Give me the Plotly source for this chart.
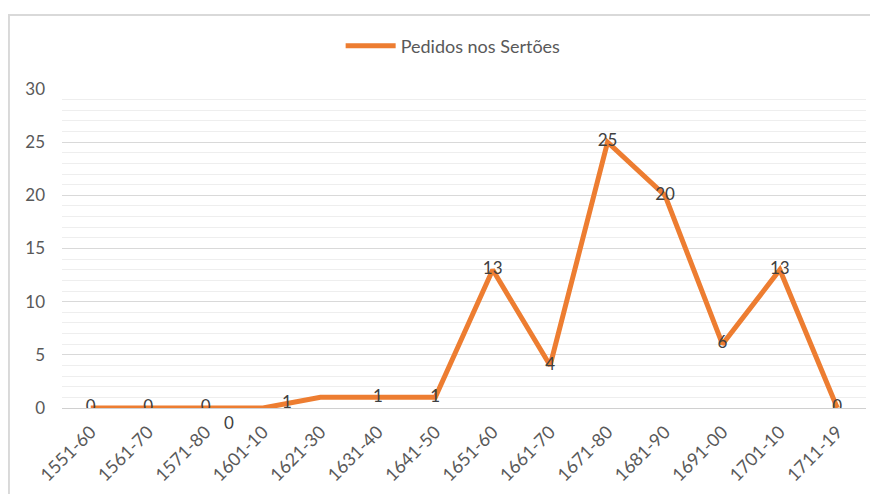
import plotly.graph_objects as go

# periods and number of requests
periods = ['1551-60', '1561-70', '1571-80', '1601-10', '1621-30', '1631-40', '1641-50',
           '1651-60', '1661-70', '1671-80', '1681-90', '1691-00', '1701-10', '1711-19']
pedidos = [0, 0, 0, 0, 1, 1, 1, 13, 4, 25, 20, 6, 13, 0]

# two labels were dragged off their points in the original sheet
moved = {3: (-34, -14), 4: (-33, -4)}

ORANGE = '#ED7D31'
GREY_TXT = '#595959'
LABEL_TXT = '#404040'
FONT = 'Lato, Open Sans, sans-serif'

labels = ['' if i in moved else str(v) for i, v in enumerate(pedidos)]

fig = go.Figure()
fig.add_trace(go.Scatter(
    x=periods, y=pedidos, mode='lines+text', name='Pedidos nos Sertões',
    line=dict(color=ORANGE, width=5),
    text=labels, textposition='middle center',
    textfont=dict(size=17, color=LABEL_TXT, family=FONT),
))

for i, (dx, dy) in moved.items():
    fig.add_annotation(x=periods[i], y=pedidos[i], text=str(pedidos[i]), showarrow=False,
                       xshift=dx, yshift=dy, font=dict(size=17, color=LABEL_TXT, family=FONT))

# outer chart border like the spreadsheet frame
fig.add_shape(type='rect', xref='paper', yref='paper', x0=-0.066, x1=1.014, y0=-0.4, y1=1.232,
              line=dict(color='#d9d9d9', width=2), fillcolor='rgba(0,0,0,0)', layer='below')

# the page body adds an 8px offset, margins account for it
fig.update_layout(
    width=878, height=494,
    margin=dict(l=54, r=20, t=81, b=94, autoexpand=False),
    paper_bgcolor='white', plot_bgcolor='white',
    font=dict(family=FONT, color=GREY_TXT, size=16),
    showlegend=True,
    legend=dict(orientation='h', x=0.507, xanchor='center', xref='container',
                y=0.923, yanchor='middle', yref='container',
                font=dict(size=18, color=GREY_TXT), itemwidth=50),
)
fig.update_xaxes(
    type='category', range=[-0.5, len(periods) - 0.5], tickangle=-45,
    showgrid=False, showline=False, ticks='', ticklabelstandoff=9,
    tickfont=dict(size=18, color=GREY_TXT, family=FONT), automargin=False,
)
fig.update_yaxes(
    range=[0, 30], dtick=5, showline=False, ticks='', automargin=False,
    gridcolor='#d9d9d9', gridwidth=1, zeroline=True, zerolinecolor='#d0d0d0', zerolinewidth=1,
    minor=dict(dtick=1, showgrid=True, gridcolor='#eeeeee', gridwidth=1),
    tickfont=dict(size=17, color=GREY_TXT, family=FONT), ticklabelstandoff=16,
)

fig.write_html('out.html')
